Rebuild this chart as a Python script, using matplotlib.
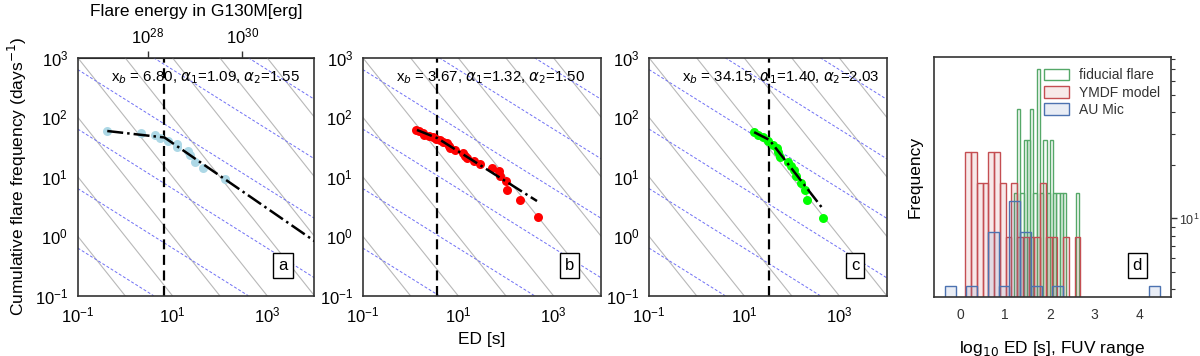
import numpy as np
import matplotlib
matplotlib.use("Agg")
import matplotlib.pyplot as plt
from matplotlib.patches import Patch
from matplotlib.ticker import FixedLocator, NullFormatter, NullLocator, LogLocator

plt.rcParams['font.family'] = ['Liberation Sans', 'DejaVu Sans']
plt.rcParams['mathtext.fontset'] = 'dejavusans'

# --- panel a: AU Mic flares (G130M) ---
ed_a = [0.42, 2.15, 4.24, 5.4, 8.24, 12.3, 12.5, 21.3, 23.9, 29.4, 44.0, 132.0]
freq_a = [58.6, 54.2, 49.6, 44.2, 40.3, 35.9, 31.9, 27.4, 23.2, 17.9, 13.8, 9.1]
fit_a_x = [0.42, 6.80, 1.0e4]
fit_a_y = [58.6, 45.6, 0.83]

# --- panel b: YMDF model ---
ed_b = [1.32, 1.55, 1.88, 1.92, 2.5, 2.96, 3.47, 4.2, 4.94, 5.8, 6.4, 6.8, 8.7,
        12.6, 13.9, 15.3, 21.1, 29.1, 51.3, 70.6, 76.7, 101, 106, 202, 474]
freq_b = [61, 58.6, 53.7, 50.4, 48.4, 46, 43.6, 41.5, 38.5, 37.4, 33, 30.2, 28.3,
          24.9, 22.4, 20.8, 18.7, 16.5, 14.1, 12.6, 10.1, 8.4, 6.07, 4.13, 2.07]
fit_b_x = [1.37, 3.67, 452]
fit_b_y = [61, 44.5, 3.9]

# --- panel c: fiducial flare ---
ed_c = [16.3, 20, 25.5, 32.5, 40.2, 48.8, 52.8, 57.3, 85.7, 97.7, 115, 122, 158, 190, 215, 454]
freq_c = [55.8, 50.4, 46, 39.9, 34.3, 30.2, 26.5, 21.3, 18, 14.9, 13.1, 10.1, 7.85, 6.07, 4.02, 2.01]
fit_c_x = [16.3, 34.15, 454]
fit_c_y = [56, 41.5, 2.89]

x_break = [6.80, 3.67, 34.15]
alpha_1 = [1.09, 1.32, 1.40]
alpha_2 = [1.55, 1.50, 2.03]
panel_tags = ['a', 'b', 'c', 'd']

ed_to_erg = 3.36e27   # ED [s] -> G130M flare energy [erg]

# guide lines: ED * freq = const (grey), freq * ED**0.5 = const (blue dashed)
grey_const = [1e-2, 1e-1, 1e0, 1e1, 1e2, 1e3, 1e4, 1e5, 1e6, 1e7]
blue_const = [2e-2, 2e-1, 2e0, 2e1, 2e2, 2e3, 2e4, 2e5]

# --- panel d: histograms of log10 ED (20 bins each) ---
green_range = (1.20, 2.655)
green_counts = [1, 3, 1, 2, 2, 3, 1, 5, 1, 2, 1, 2, 1, 1, 1, 1, 0, 0, 0, 1]
green_unit = 13.95
red_range = (0.121, 2.681)
red_counts = [3, 3, 2, 2, 3, 3, 2, 1, 2, 1, 1, 1, 1, 2, 1, 1, 0, 1, 0, 1]
red_unit = 7.9
blue_range = (-0.34, 4.46)
blue_counts = [1, 0, 1, 0, 2, 1, 3, 2, 1, 0, 1, 0, 0, 0, 0, 0, 0, 0, 0, 1]
blue_unit = 4.17

GREEN, RED, BLUE = '#55a868', '#c44e52', '#4c72b0'
GREEN_FACE = (0.33, 0.66, 0.41, 0.04)
RED_FACE = (0.77, 0.31, 0.32, 0.12)
BLUE_FACE = (0.30, 0.45, 0.69, 0.12)


def ffd_panel(ax, ed, freq, color, fit_x, fit_y, i):
    ax.set_xscale('log')
    ax.set_yscale('log')
    ax.set_xlim(1e-1, 1e4)
    ax.set_ylim(1e-1, 1e3)
    for c in grey_const:
        ax.axline((1.0, c), (10.0, c / 10), color='0.72', lw=0.8, zorder=1)
    for c in blue_const:
        ax.axline((1.0, c), (100.0, c / 10), color='#6f6ff5', lw=0.7,
                  ls=(0, (3, 2)), zorder=1)
    ax.axvline(x_break[i], color='k', lw=1.6, ls=(0, (4.5, 2.5)), zorder=2)
    ax.scatter(ed, freq, s=42, color=color, zorder=3, linewidths=0)
    ax.plot(fit_x, fit_y, color='k', lw=1.8, ls='-.', zorder=4)
    ax.text(0.14, 0.915, r"x$_b$ = %.2f, $\alpha_1$=%.2f, $\alpha_2$=%.2f"
            % (x_break[i], alpha_1[i], alpha_2[i]),
            transform=ax.transAxes, fontsize=10.8, va='center', zorder=5)
    ax.text(0.867, 0.128, panel_tags[i], transform=ax.transAxes, fontsize=12,
            ha='center', va='center', zorder=6,
            bbox=dict(boxstyle='square,pad=0.3', facecolor='white', edgecolor='k', lw=1))
    ax.xaxis.set_major_locator(FixedLocator([1e-1, 1e1, 1e3]))
    ax.xaxis.set_minor_locator(NullLocator())
    ax.yaxis.set_major_locator(FixedLocator([1e-1, 1e0, 1e1, 1e2, 1e3]))
    ax.yaxis.set_minor_locator(NullLocator())
    ax.tick_params(length=0, pad=7, labelsize=12)
    for s in ax.spines.values():
        s.set_color('0.2')
        s.set_linewidth(1.2)


fig = plt.figure(figsize=(12, 3.56), dpi=100)
ax_a = fig.add_axes([0.0648, 0.1694, 0.1972, 0.6685])
ax_b = fig.add_axes([0.3023, 0.1694, 0.1986, 0.6685])
ax_c = fig.add_axes([0.5408, 0.1694, 0.1981, 0.6685])
ax_d = fig.add_axes([0.7783, 0.1660, 0.1975, 0.6740])

ffd_panel(ax_a, ed_a, freq_a, 'lightblue', fit_a_x, fit_a_y, 0)
ffd_panel(ax_b, ed_b, freq_b, 'red', fit_b_x, fit_b_y, 1)
ffd_panel(ax_c, ed_c, freq_c, 'lime', fit_c_x, fit_c_y, 2)

ax_a.set_ylabel('Cumulative flare frequency (days$^{-1}$)', fontsize=12.5, labelpad=4)
ax_b.set_xlabel('ED [s]', fontsize=12.5, labelpad=5)

top = ax_a.secondary_xaxis('top', functions=(lambda x: x * ed_to_erg,
                                             lambda e: e / ed_to_erg))
top.xaxis.set_major_locator(FixedLocator([1e28, 1e30]))
top.xaxis.set_minor_locator(NullLocator())
top.tick_params(length=5, width=1, color='0.2', labelsize=12, pad=3)
top.set_xlabel('Flare energy in G130M[erg]', fontsize=12.5, labelpad=8)

# panel d
for rng, counts, unit, col, face in [
        (green_range, green_counts, green_unit, GREEN, GREEN_FACE),
        (red_range, red_counts, red_unit, RED, RED_FACE),
        (blue_range, blue_counts, blue_unit, BLUE, BLUE_FACE)]:
    edges = np.linspace(rng[0], rng[1], len(counts) + 1)
    h = np.array(counts) * unit
    keep = h > 0
    ax_d.bar(edges[:-1][keep], h[keep], width=np.diff(edges)[keep], align='edge',
             facecolor=face, edgecolor=col, lw=1.0)

ax_d.set_yscale('log')
ax_d.set_ylim(3.6, 82)
ax_d.set_xlim(-0.58, 4.70)
ax_d.yaxis.tick_right()
ax_d.yaxis.set_label_position('left')
ax_d.yaxis.set_major_locator(FixedLocator([10]))
ax_d.yaxis.set_minor_locator(LogLocator(subs=np.arange(2, 10)))
ax_d.yaxis.set_minor_formatter(NullFormatter())
ax_d.set_xticks([0, 1, 2, 3, 4])
ax_d.tick_params(axis='x', length=0, pad=8, labelsize=10, labelcolor='0.2')
ax_d.tick_params(axis='y', which='major', length=4, width=1, color='0.2',
                 labelsize=9, labelcolor='0.2', pad=1.5)
ax_d.tick_params(axis='y', which='minor', length=3, width=0.8, color='0.2')
ax_d.set_ylabel('Frequency', fontsize=12.5, labelpad=8)
ax_d.set_xlabel(r'log$_{10}$ ED [s], FUV range', fontsize=12.5, labelpad=12)
for s in ax_d.spines.values():
    s.set_color('0.2')
    s.set_linewidth(1.2)

handles = [Patch(facecolor='white', edgecolor=GREEN, lw=1.0, label='fiducial flare'),
           Patch(facecolor=RED_FACE, edgecolor=RED, lw=1.0, label='YMDF model'),
           Patch(facecolor=BLUE_FACE, edgecolor=BLUE, lw=1.0, label='AU Mic')]
ax_d.legend(handles=handles, loc='upper right', frameon=False, fontsize=10,
            handlelength=1.8, handleheight=0.9, labelspacing=0.25,
            handletextpad=0.7, borderaxespad=0.4, labelcolor='0.2')
ax_d.text(0.858, 0.129, panel_tags[3], transform=ax_d.transAxes, fontsize=12,
          ha='center', va='center',
          bbox=dict(boxstyle='square,pad=0.3', facecolor='white', edgecolor='k', lw=1))

fig.savefig('out.png', dpi=100)
